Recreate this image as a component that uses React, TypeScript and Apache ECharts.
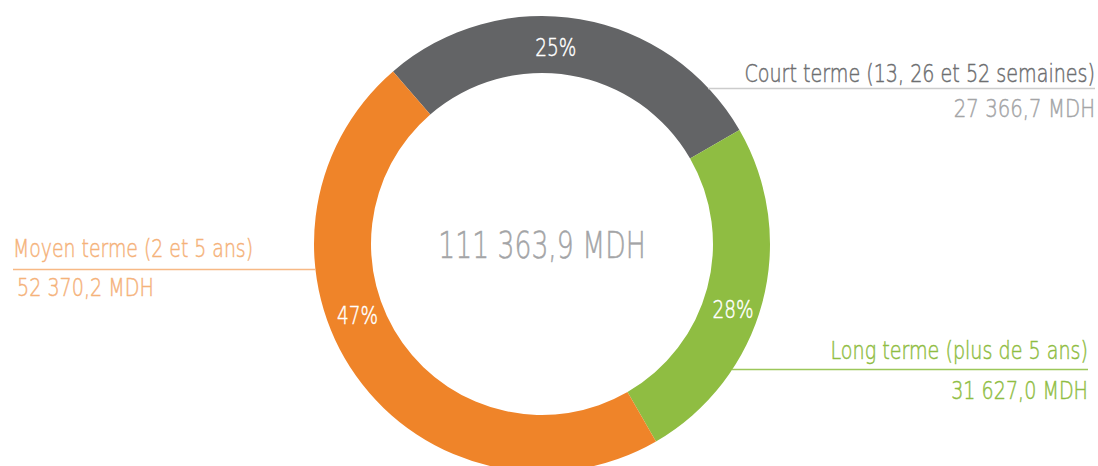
import React, { useEffect, useRef } from "react";
import * as echarts from "echarts";

// Data
const categories = [
  "Court terme (13, 26 et 52 semaines)",
  "Long terme (plus de 5 ans)",
  "Moyen terme (2 et 5 ans)",
];
const amounts = ["27 366,7 MDH", "31 627,0 MDH", "52 370,2 MDH"];
const percentLabels = ["25%", "28%", "47%"];
// share of the ring each slice occupies as drawn in the reference
const arcShares = [28, 25, 47];
const totalLabel = "111 363,9 MDH";

// Styles / layout
const sliceColors = ["#636466", "#8fbd42", "#ef8429"];
const FONT = '"DejaVu Sans", sans-serif';
const WEIGHT = 200;
const SX = 0.765;
const CX = 542;
const CY = 244;
const R_IN = 171;
const R_OUT = 228;
const labelAngles = [86, -19, 201.3];
const labelRadii = [197, 202, 198];

export default function App() {
  const ref = useRef<HTMLDivElement>(null);

  useEffect(() => {
    document.body.style.margin = "0";
    if (!ref.current) return;
    const chart = echarts.init(ref.current, undefined, { renderer: "svg" });

    const txt = (
      text: string,
      x: number,
      y: number,
      fill: string,
      align: string,
      fontSize = 25,
      sx = SX
    ) => ({
      type: "text",
      x,
      y,
      z: 10,
      scaleX: sx,
      style: {
        text,
        fill,
        stroke: fill,
        lineWidth: 0.5,
        fontSize,
        fontWeight: WEIGHT,
        fontFamily: FONT,
        align,
        verticalAlign: "middle",
      },
    });
    const ln = (x1: number, y: number, x2: number, color: string) => ({
      type: "rect",
      z: 5,
      silent: true,
      shape: { x: x1, y: y - 0.75, width: x2 - x1, height: 1.5 },
      style: { fill: color, stroke: null },
    });

    const pctTexts = percentLabels.map((t, i) => {
      const a = (labelAngles[i] * Math.PI) / 180;
      return txt(
        t,
        CX + labelRadii[i] * Math.cos(a),
        CY - labelRadii[i] * Math.sin(a),
        "#ffffff",
        "center",
        25,
        0.74
      );
    });

    chart.setOption({
      animation: false,
      backgroundColor: "#ffffff",
      series: [
        {
          type: "pie",
          center: [CX, CY],
          radius: [R_IN, R_OUT],
          startAngle: 130.8,
          clockwise: true,
          silent: true,
          label: { show: false },
          labelLine: { show: false },
          itemStyle: { borderWidth: 0 },
          emphasis: { disabled: true },
          data: categories.map((name, i) => ({
            name,
            value: arcShares[i],
            itemStyle: { color: sliceColors[i] },
          })),
        },
      ],
      graphic: [
        ...pctTexts,
        txt(totalLabel, CX, CY + 1, "#a3a4a6", "center", 37, 0.72),
        // Court terme
        txt(categories[0], 1095, 73, "#6d6e70", "right"),
        ln(708, 88.5, 1095, "#cccccc"),
        txt(amounts[0], 1095, 108, "#a3a4a6", "right", 25, 0.79),
        // Long terme
        txt(categories[1], 1088, 350, "#8fbd42", "right"),
        ln(732, 369.5, 1088, "#9cc75a"),
        txt(amounts[1], 1088, 390, "#8fbd42", "right"),
        // Moyen terme
        txt(categories[2], 13, 248, "#f5b27a", "left", 25, 0.755),
        ln(13, 269.5, 315, "#f7b985"),
        txt(amounts[2], 17, 287, "#f5b27a", "left"),
      ],
    });

    return () => chart.dispose();
  }, []);

  return <div ref={ref} style={{ width: 1098, height: 466 }} />;
}
